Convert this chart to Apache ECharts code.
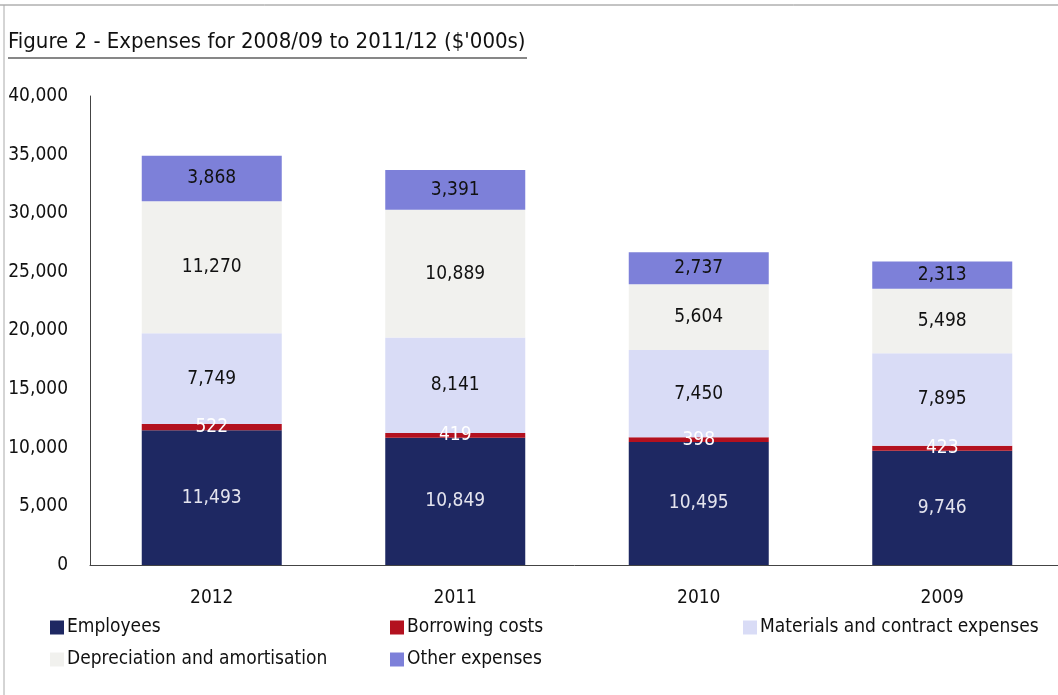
<!DOCTYPE html>
<html><head><meta charset="utf-8">
<script src="https://cdn.jsdelivr.net/npm/echarts@6/dist/echarts.min.js"></script>
<style>html,body{margin:0;padding:0;background:#fff}#c{width:1058px;height:695px}</style>
</head><body><div id="c"></div>
<script>
const categories = ['2012', '2011', '2010', '2009'];
const employees = [11493, 10849, 10495, 9746];
const borrowing = [522, 419, 398, 423];
const materials = [7749, 8141, 7450, 7895];
const depreciation = [11270, 10889, 5604, 5498];
const other = [3868, 3391, 2737, 2313];
const seriesNames = ['Employees', 'Borrowing costs', 'Materials and contract expenses', 'Depreciation and amortisation', 'Other expenses'];
const yTicks = [0, 5000, 10000, 15000, 20000, 25000, 30000, 35000, 40000];

const FONT = "'DejaVu Sans Condensed', 'Liberation Sans Narrow', 'Liberation Sans', sans-serif";
const colors = ['#1e2862', '#b3111f', '#d9dcf6', '#f1f1ee', '#7d80d9'];
const labelColors = ['#e4e4ee', '#ffffff', '#111', '#111', '#111'];
const dataSets = [employees, borrowing, materials, depreciation, other];
const fmt = v => Number(v).toLocaleString('en-US');

const chart = echarts.init(document.getElementById('c'), null, {renderer: 'canvas'});
const legendPos = [[45, 613], [385, 613], [738, 613], [45, 645], [385, 645]];
chart.setOption({
  animation: false,
  backgroundColor: '#fff',
  color: colors,
  grid: {left: 90, top: 96, bottom: 130, width: 974, containLabel: false, outerBoundsMode: 'none'},
  legend: seriesNames.map((n, i) => ({
    data: [n], left: legendPos[i][0], top: legendPos[i][1],
    icon: 'rect', itemWidth: 14, itemHeight: 14, itemGap: 4,
    textStyle: {fontFamily: FONT, fontSize: 19, color: '#111', padding: [0, 0, 0, -2]},
    selectedMode: false
  })),
  xAxis: {
    type: 'category', data: categories,
    axisLine: {lineStyle: {color: '#444', width: 1}},
    axisTick: {show: false},
    axisLabel: {fontFamily: FONT, fontSize: 19, color: '#111', margin: 24}
  },
  yAxis: {
    type: 'value', min: yTicks[0], max: yTicks[yTicks.length - 1], interval: 5000,
    axisLine: {show: true, lineStyle: {color: '#444', width: 1}},
    axisTick: {show: false},
    splitLine: {show: false},
    axisLabel: {fontFamily: FONT, fontSize: 19, color: '#111', margin: 22, formatter: v => fmt(v)}
  },
  graphic: [
    {type: 'text', x: 8, y: 31, style: {text: "Figure 2 - Expenses for 2008/09 to 2011/12 ($'000s)", font: "22px " + FONT, fill: '#111'}},
    {type: 'line', shape: {x1: 8, y1: 58, x2: 527, y2: 58}, style: {stroke: '#111', lineWidth: 1.2}},
    {type: 'line', shape: {x1: 0, y1: 5, x2: 1058, y2: 5}, style: {stroke: '#888', lineWidth: 1}},
    {type: 'line', shape: {x1: 4, y1: 5, x2: 4, y2: 695}, style: {stroke: '#aaa', lineWidth: 1}}
  ],
  series: seriesNames.map((n, i) => ({
    name: n, type: 'bar', stack: 'total', barWidth: 140,
    data: dataSets[i],
    itemStyle: {color: colors[i]},
    label: {show: true, position: 'inside', formatter: p => fmt(p.value),
      fontFamily: FONT, fontSize: 19, color: labelColors[i]}
  }))
});
</script></body></html>
